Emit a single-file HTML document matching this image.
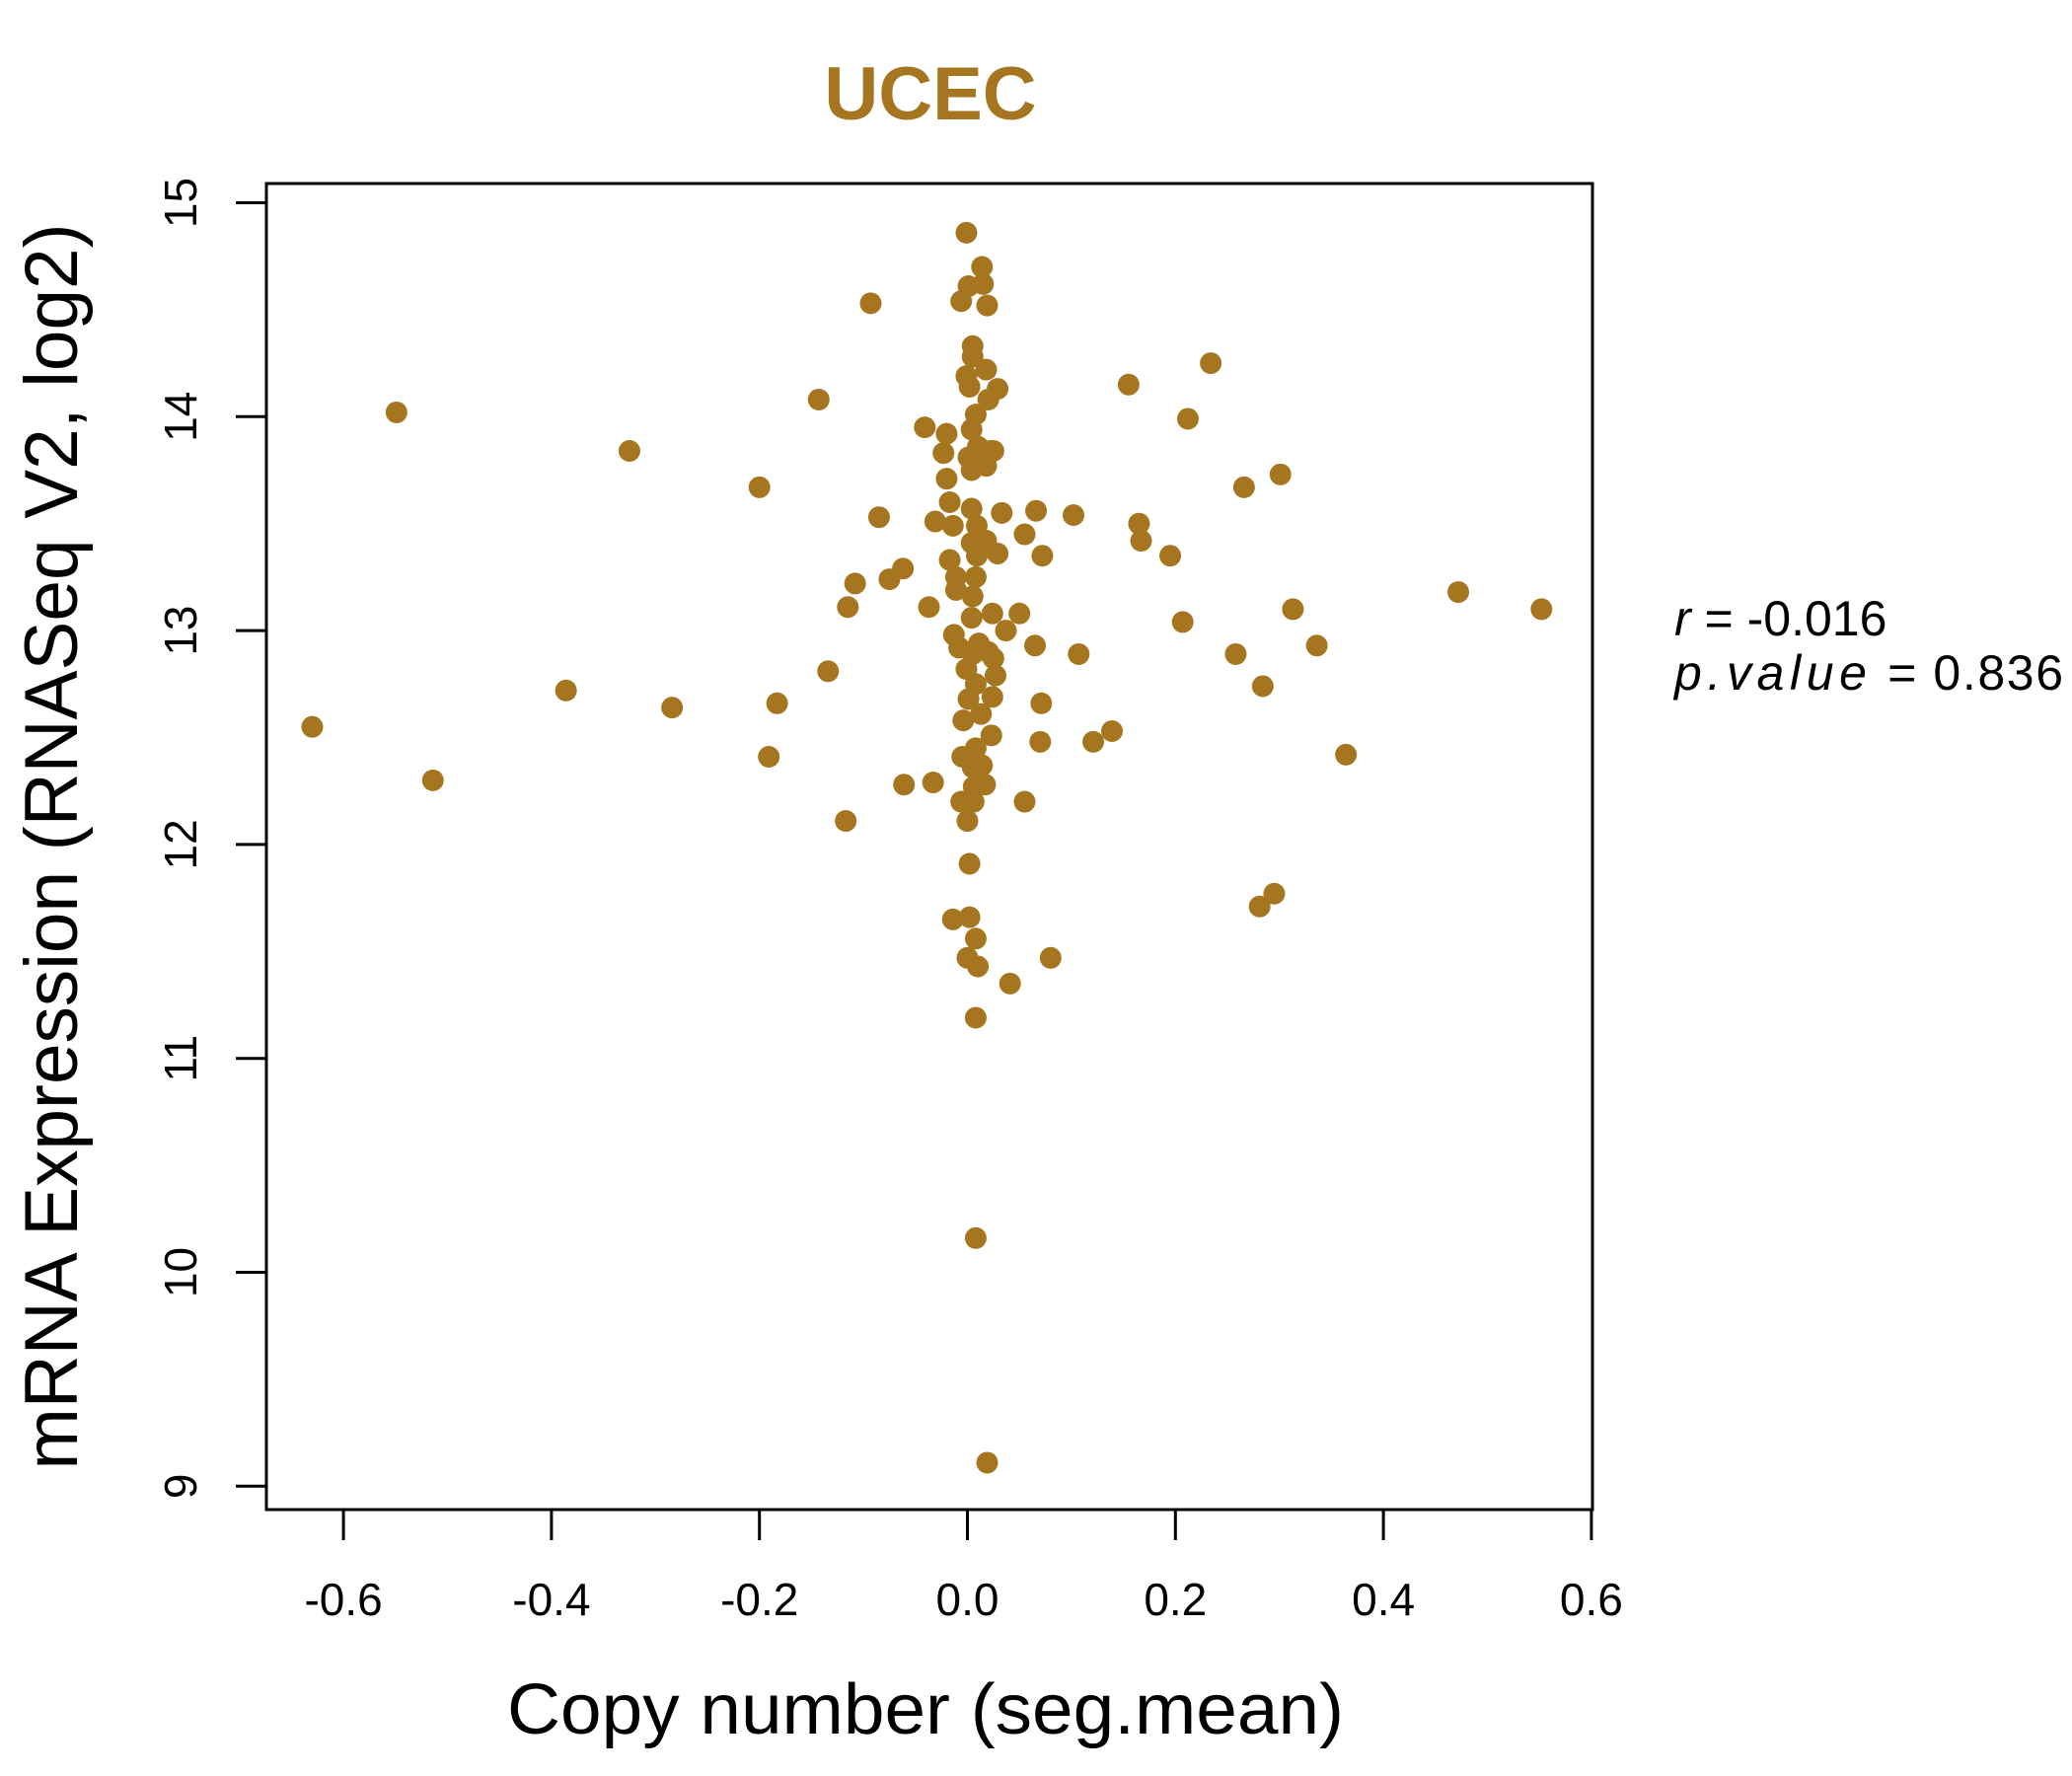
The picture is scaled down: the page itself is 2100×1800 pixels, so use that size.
<!DOCTYPE html>
<html><head><meta charset="utf-8"><style>html,body{margin:0;padding:0;background:#fff;}svg{display:block;}</style></head>
<body>
<svg id="chart" width="2100" height="1800" viewBox="0 0 2100 1800" xmlns="http://www.w3.org/2000/svg" font-family="'Liberation Sans', sans-serif">
<rect x="0" y="0" width="2100" height="1800" fill="#fff"/>
<text x="943" y="121" text-anchor="middle" font-size="76" font-weight="bold" fill="#A5761F">UCEC</text>
<rect x="270" y="186" width="1344" height="1344" fill="none" stroke="#000" stroke-width="3"/>
<g id="xaxis"></g>
<g id="yaxis"></g>
<g id="points"></g>
<text x="938" y="1757" text-anchor="middle" font-size="72" textLength="848" lengthAdjust="spacingAndGlyphs">Copy number (seg.mean)</text>
<text transform="translate(78,858) rotate(-90)" text-anchor="middle" font-size="76" textLength="1263" lengthAdjust="spacingAndGlyphs">mRNA Expression (RNASeq V2, log2)</text>
<text x="1697" y="644" font-size="50"><tspan font-style="italic">r</tspan> = -0.016</text>
<text x="1697" y="699" font-size="50" textLength="394" lengthAdjust="spacing"><tspan font-style="italic" letter-spacing="4">p.value</tspan> = 0.836</text>
</svg>
<script>
const xTicks = [-0.6, -0.4, -0.2, 0.0, 0.2, 0.4, 0.6];
const xTickLabels = ["-0.6", "-0.4", "-0.2", "0.0", "0.2", "0.4", "0.6"];
const yTicks = [9, 10, 11, 12, 13, 14, 15];
const yTickLabels = ["9", "10", "11", "12", "13", "14", "15"];
const copyNumber = [-0.630,-0.549,-0.514,-0.386,-0.325,-0.284,-0.200,-0.191,-0.183,-0.143,-0.134,-0.117,-0.115,-0.108,-0.093,-0.085,-0.075,-0.062,-0.061,-0.041,-0.037,-0.033,-0.031,-0.023,-0.020,-0.020,-0.017,-0.017,-0.014,-0.014,-0.013,-0.011,-0.011,-0.008,-0.006,-0.006,-0.005,-0.004,-0.001,-0.001,-0.001,0.000,0.000,0.001,0.001,0.001,0.002,0.002,0.002,0.004,0.004,0.004,0.004,0.004,0.005,0.005,0.005,0.005,0.005,0.006,0.006,0.008,0.008,0.008,0.008,0.008,0.008,0.008,0.009,0.009,0.010,0.010,0.011,0.011,0.013,0.014,0.014,0.015,0.017,0.018,0.018,0.018,0.019,0.019,0.020,0.020,0.022,0.023,0.024,0.024,0.025,0.025,0.027,0.029,0.029,0.033,0.037,0.041,0.050,0.055,0.055,0.065,0.066,0.070,0.071,0.072,0.080,0.102,0.107,0.121,0.139,0.155,0.165,0.167,0.195,0.207,0.212,0.234,0.258,0.266,0.281,0.284,0.295,0.301,0.313,0.336,0.364,0.472,0.552];
const expression = [12.55,14.02,12.30,12.72,13.84,12.64,13.67,12.41,12.66,14.08,12.81,12.11,13.11,13.22,14.53,13.53,13.24,13.29,12.28,13.95,13.11,12.29,13.51,13.83,13.92,13.71,13.60,13.33,13.49,11.65,12.98,13.25,13.19,12.92,14.54,12.20,12.41,12.58,14.86,14.19,12.82,12.11,11.47,14.61,13.81,12.68,11.66,11.91,14.14,13.06,13.41,13.57,13.75,13.94,14.33,14.28,13.16,12.89,12.36,12.27,12.20,12.45,12.75,13.25,14.01,11.56,11.19,10.16,13.35,13.49,11.43,13.86,13.81,12.94,12.61,14.70,12.37,14.62,12.28,14.22,13.42,13.77,14.52,9.11,14.08,12.90,13.84,12.51,13.08,12.69,13.84,12.87,12.79,14.13,13.36,13.55,13.00,11.35,13.08,13.45,12.20,12.93,13.56,12.48,12.66,13.35,11.47,13.54,12.89,12.48,12.53,14.15,13.50,13.42,13.35,13.04,13.99,14.25,12.89,13.67,11.71,12.74,11.77,13.73,13.10,12.93,12.42,13.18,13.10];

const NS = "http://www.w3.org/2000/svg";
function xPos(v){ return 980.5 + v * 1054; }
function yPos(v){ return 205.5 + (15 - v) * 216.8; }

const xa = document.getElementById('xaxis');
xTicks.forEach((t, i) => {
  const l = document.createElementNS(NS, 'line');
  l.setAttribute('x1', xPos(t)); l.setAttribute('x2', xPos(t));
  l.setAttribute('y1', 1530); l.setAttribute('y2', 1561);
  l.setAttribute('stroke', '#000'); l.setAttribute('stroke-width', 3);
  
  
  xa.appendChild(l);
  const tx = document.createElementNS(NS, 'text');
  tx.setAttribute('x', xPos(t)); tx.setAttribute('y', 1637);
  tx.setAttribute('text-anchor', 'middle'); tx.setAttribute('font-size', 46);
  tx.textContent = xTickLabels[i];
  
  
  xa.appendChild(tx);
});
const ya = document.getElementById('yaxis');
yTicks.forEach((t, i) => {
  const l = document.createElementNS(NS, 'line');
  l.setAttribute('x1', 239); l.setAttribute('x2', 270);
  l.setAttribute('y1', yPos(t)); l.setAttribute('y2', yPos(t));
  l.setAttribute('stroke', '#000'); l.setAttribute('stroke-width', 3);
  
  
  ya.appendChild(l);
  const tx = document.createElementNS(NS, 'text');
  tx.setAttribute('transform', 'translate(199,' + yPos(t) + ') rotate(-90)');
  tx.setAttribute('text-anchor', 'middle'); tx.setAttribute('font-size', 46);
  tx.textContent = yTickLabels[i];
  
  
  ya.appendChild(tx);
});
const pg = document.getElementById('points');
copyNumber.forEach((c, i) => {
  const p = document.createElementNS(NS, 'circle');
  p.setAttribute('cx', xPos(c)); p.setAttribute('cy', yPos(expression[i]));
  p.setAttribute('r', 11); p.setAttribute('fill', '#A5761F');
  
  
  pg.appendChild(p);
});
</script>
</body></html>
